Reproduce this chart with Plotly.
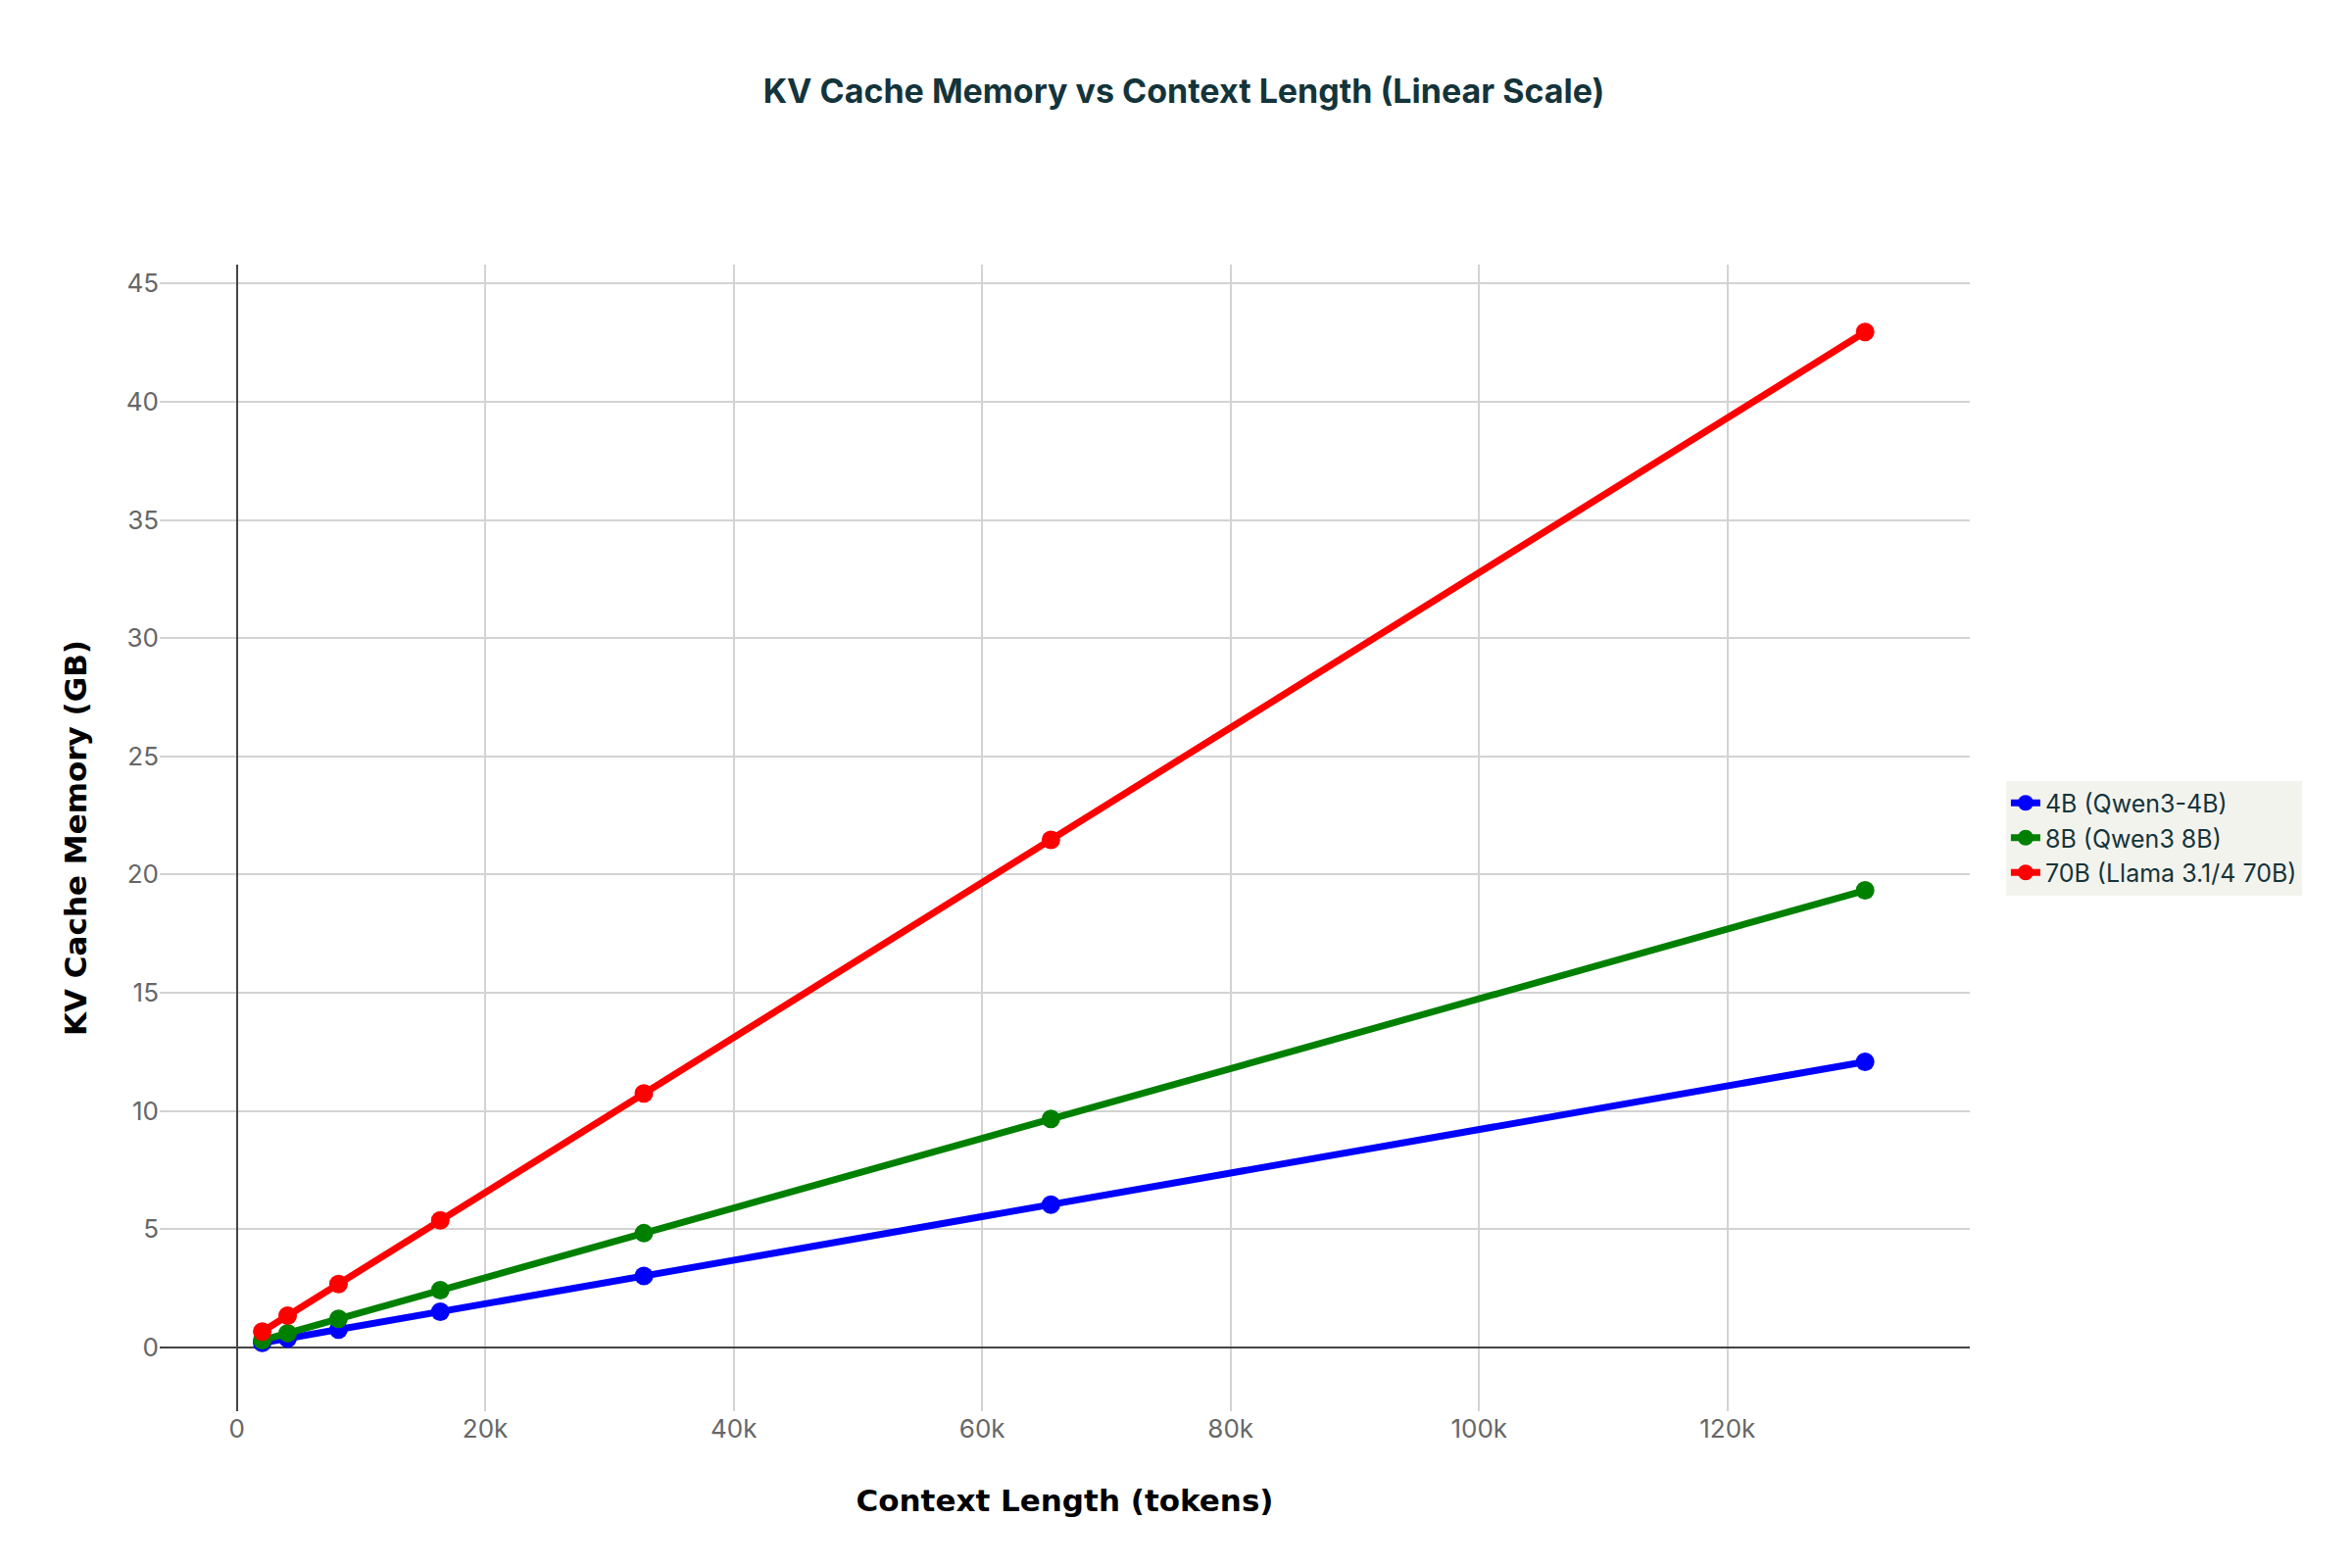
import plotly.graph_objects as go

context_tokens = [2048, 4096, 8192, 16384, 32768, 65536, 131072]
mem_4b = [0.19, 0.38, 0.75, 1.51, 3.02, 6.04, 12.08]
mem_8b = [0.30, 0.60, 1.21, 2.42, 4.83, 9.66, 19.33]
mem_70b = [0.67, 1.34, 2.68, 5.37, 10.74, 21.47, 42.95]
names = ["4B (Qwen3-4B)", "8B (Qwen3 8B)", "70B (Llama 3.1/4 70B)"]
colors = ["blue", "green", "red"]

fig = go.Figure()
for n, ys, c in zip(names, [mem_4b, mem_8b, mem_70b], colors):
    fig.add_trace(go.Scatter(x=context_tokens, y=ys, name=n, mode="lines+markers",
                             line=dict(color=c, width=7), marker=dict(size=19, color=c)))

fig.update_layout(
    width=2400, height=1600,
    paper_bgcolor="white", plot_bgcolor="white",
    font=dict(family="Inter, Roboto, sans-serif", size=24, color="#13343B"),
    title=dict(text="<b>KV Cache Memory vs Context Length (Linear Scale)</b>", x=0.5, xanchor="center",
               y=0.947, yanchor="middle", font=dict(size=34, color="#13343B")),
    margin=dict(l=155, r=398, t=262, b=168),
    legend=dict(x=1.02, y=0.5, xanchor="left", yanchor="middle", bgcolor="#F3F3EE",
                font=dict(size=25, color="#13343B")),
    xaxis=dict(title=dict(text="<b>Context Length (tokens)</b>", font=dict(family="DejaVu Sans", size=31, color="black"), standoff=48),
               range=[-6200, 139500], tickvals=[0, 20000, 40000, 60000, 80000, 100000, 120000],
               ticktext=["0", "20k", "40k", "60k", "80k", "100k", "120k"],
               showgrid=True, gridcolor="#D3D3D3", gridwidth=1.5,
               zeroline=True, zerolinecolor="#444", zerolinewidth=1.5,
               tickfont=dict(color="#666", size=26)),
    yaxis=dict(title=dict(text="<b>KV Cache Memory (GB)</b>", font=dict(family="DejaVu Sans", size=31, color="black"), standoff=30),
               range=[-2.7, 45.8], dtick=5,
               showgrid=True, gridcolor="#D3D3D3", gridwidth=1.5,
               zeroline=True, zerolinecolor="#444", zerolinewidth=1.5,
               tickfont=dict(color="#666", size=26)),
)
fig.write_html("out.html")
